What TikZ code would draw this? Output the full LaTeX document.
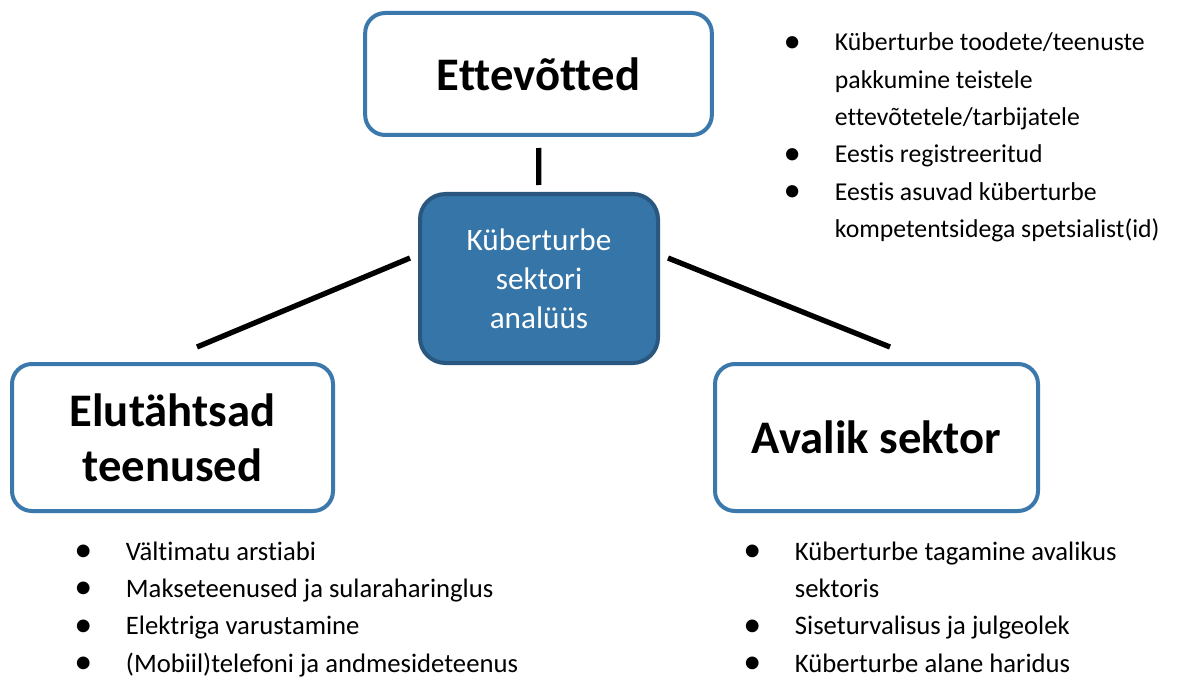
\documentclass[tikz,border=0pt]{standalone}
\usepackage{fontspec}
\setmainfont{Carlito}[Ligatures=NoCommon]
\usetikzlibrary{positioning}

\definecolor{boxblue}{HTML}{3B78AC}
\definecolor{hubfill}{HTML}{3575A8}
\definecolor{hubedge}{HTML}{295780}

\tikzset{
  topic/.style={draw=boxblue, line width=3pt, fill=white, rounded corners=15pt,
    align=center, font=\fontsize{35}{41}\selectfont\bfseries},
  hub/.style={draw=hubedge, line width=3pt, fill=hubfill, rounded corners=19pt,
    align=center, text=white, font=\fontsize{23.4}{29.25}\selectfont},
  link/.style={line width=4pt},
  points/.style={anchor=base west, inner sep=0pt, font=\fontsize{19.3}{28}\selectfont},
  lowpoints/.style={points, font=\fontsize{20}{28}\selectfont}
}
\newcommand{\bul}{\makebox[0pt]{\raisebox{-0.05em}{\scalebox{1.35}{\textbullet}}}}
\newcommand{\pointlist}[1]{\begin{tabular}[t]{@{}l@{\hspace{32pt}}l@{}}#1\end{tabular}}

\begin{document}
\begin{tikzpicture}[x=0.75pt,y=-0.75pt]
  \useasboundingbox (0,0) rectangle (1181,681);

  \node[hub, minimum width=178.5pt, minimum height=126.75pt] (hub) at (539,278.5)
    {Küberturbe\\sektori\\analüüs};
  \node[topic, minimum width=260pt, minimum height=91.5pt] (firms) at (538.5,74) {Ettevõtted};
  \node[topic, minimum width=240.75pt, minimum height=110.25pt] (vital) at (172.5,437.5)
    {Elutähtsad\\teenused};
  \node[topic, minimum width=242.25pt, minimum height=110.25pt] (public) at (876.5,437.5)
    {Avalik sektor};

  % connectors
  \coordinate (hubl) at (410,258);
  \coordinate (vitalt) at (197,347);
  \coordinate (hubr) at (668,258);
  \coordinate (publict) at (890,347);
  \draw[link, shorten <=8.25pt, shorten >=5.25pt] (firms) -- (hub);
  \draw[link] (hubl) -- (vitalt);
  \draw[link] (hubr) -- (publict);

  % bullet lists
  \node[points] (firmsl) at (792,51) {\pointlist{
    \bul & Küberturbe toodete/teenuste\\
         & pakkumine teistele\\
         & ettevõtetele/tarbijatele\\
    \bul & Eestis registreeritud\\
    \bul & Eestis asuvad küberturbe\\
         & kompetentsidega spetsialist(id)}};
  \node[lowpoints] (vitall) at (83,560) {\pointlist{
    \bul & Vältimatu arstiabi\\
    \bul & Makseteenused ja sularaharinglus\\
    \bul & Elektriga varustamine\\
    \bul & (Mobiil)telefoni ja andmesideteenus\\[-7pt]}};
  \node[lowpoints] (publicl) at (752,560) {\pointlist{
    \bul & Küberturbe tagamine avalikus\\
         & sektoris\\
    \bul & Siseturvalisus ja julgeolek\\
    \bul & Küberturbe alane haridus\\[-7pt]}};
\end{tikzpicture}
\end{document}
